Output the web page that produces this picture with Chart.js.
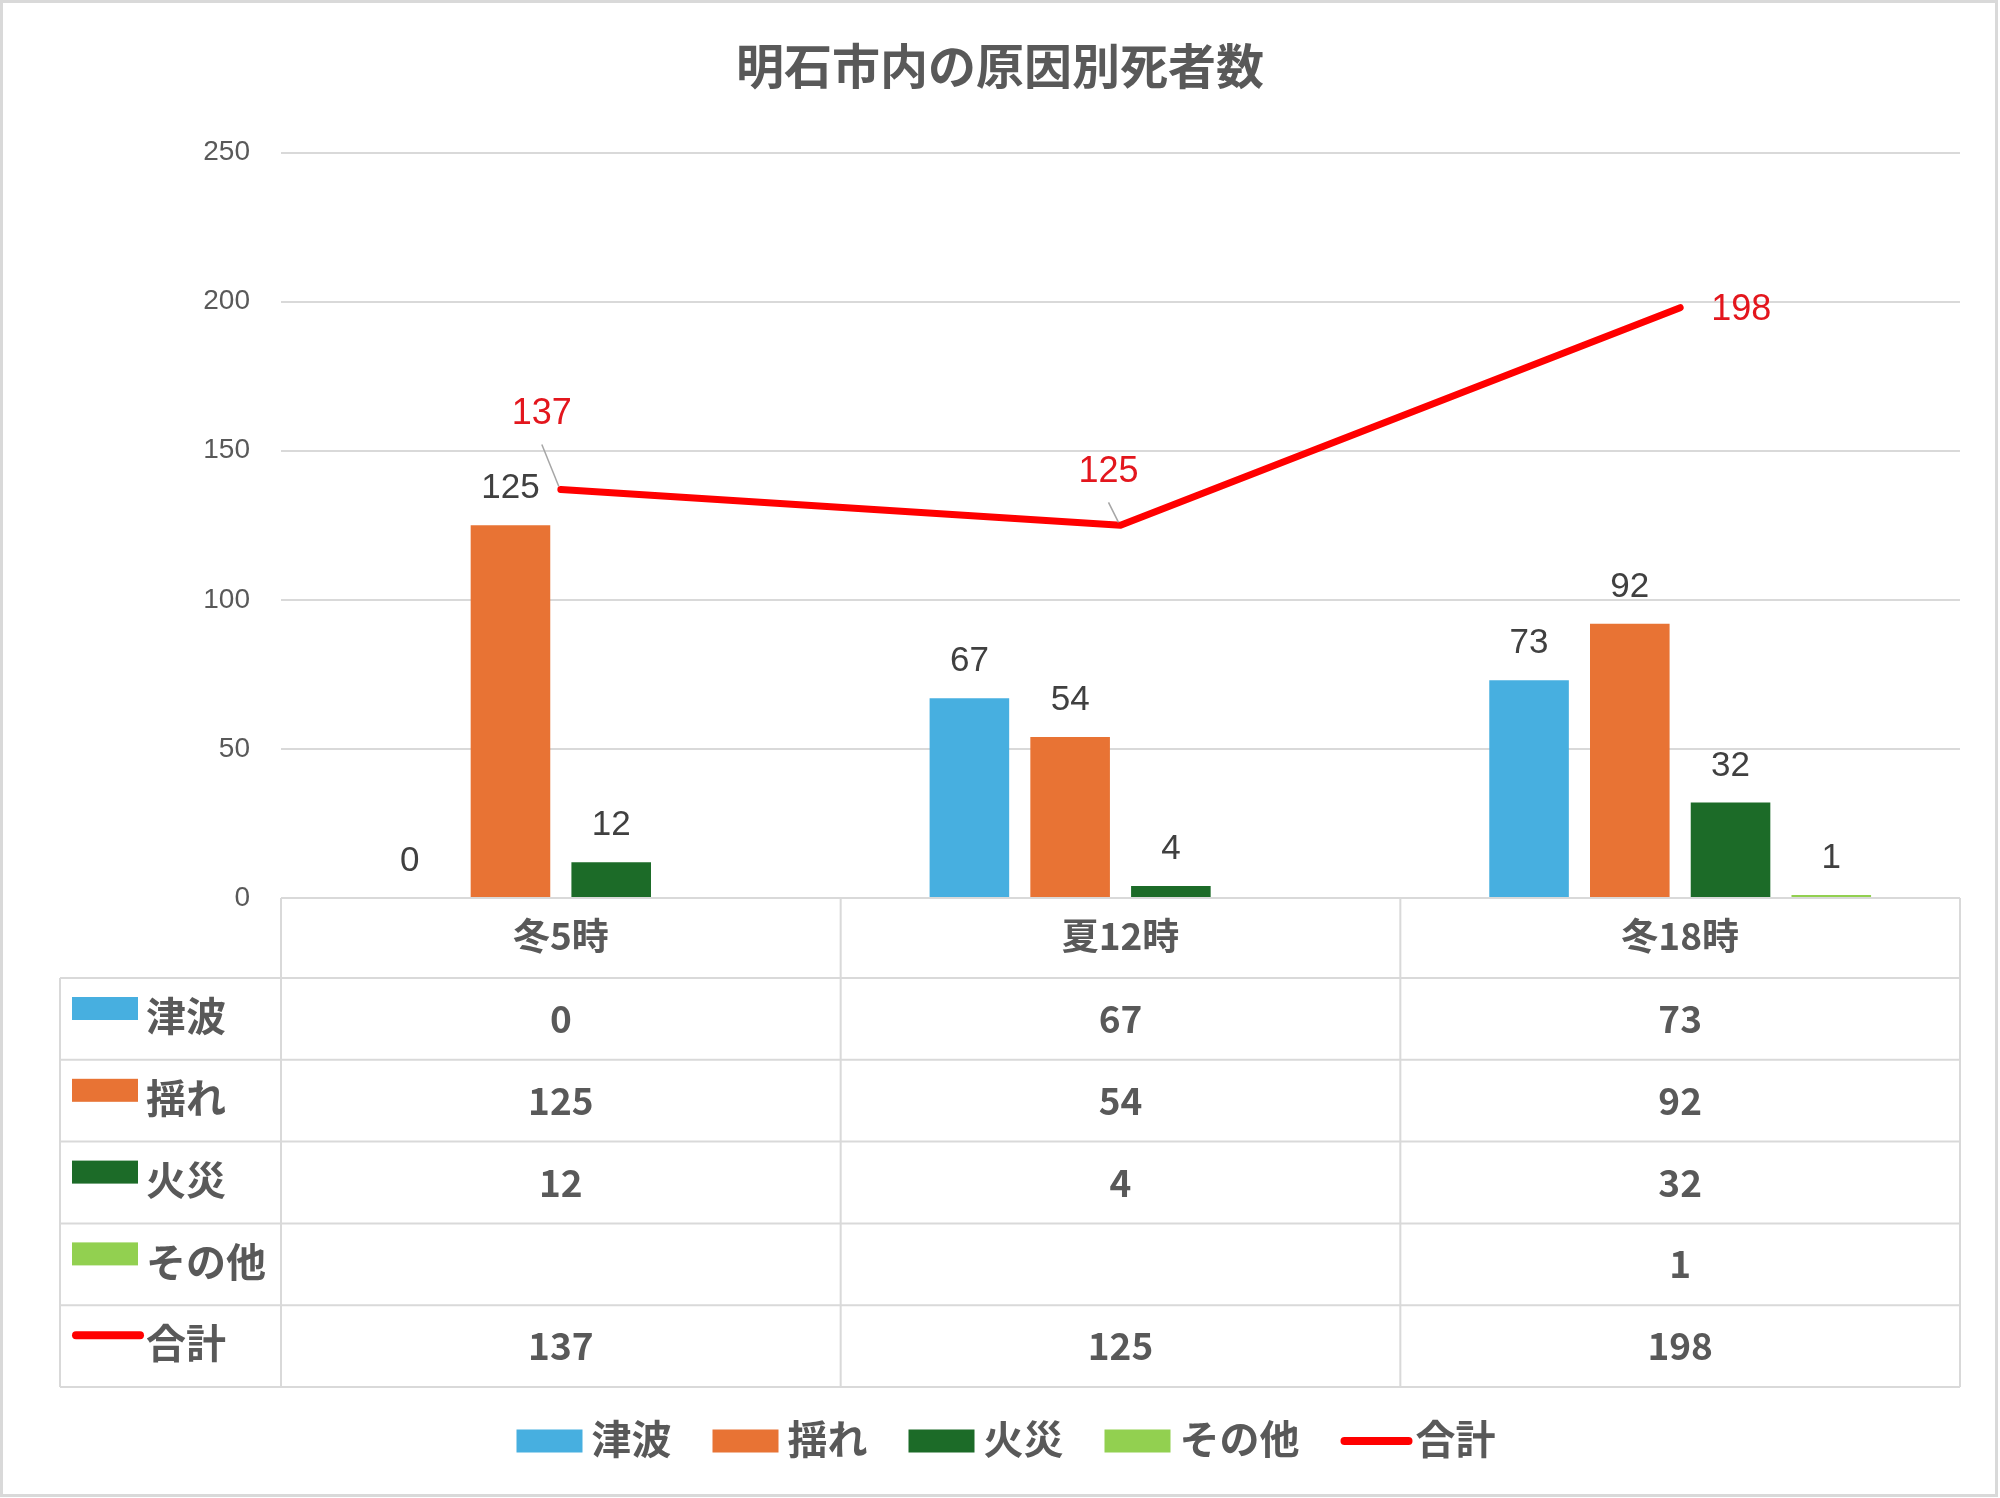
<!DOCTYPE html>
<html>
<head>
<meta charset="utf-8">
<script src="https://cdn.jsdelivr.net/npm/chart.js@4.4.0/dist/chart.umd.min.js"></script>
<style>
html, body { margin: 0; padding: 0; background: #fff; }
</style>
</head>
<body>
<canvas id="chart" width="2000" height="1498"></canvas>
<script>
const categories = ['冬5時', '夏12時', '冬18時'];
const tsunami = [0, 67, 73];
const shaking = [125, 54, 92];
const fire = [12, 4, 32];
const other = [null, null, 1];
const total = [137, 125, 198];
const seriesNames = ['津波', '揺れ', '火災', 'その他', '合計'];
const yTicks = [0, 50, 100, 150, 200, 250];

const GRAY = '#595959';
const GRID = '#d9d9d9';
const JP = "'Noto Sans CJK JP', 'Noto Sans', sans-serif";
const NUM = "'Liberation Sans', Arial, sans-serif";

// where the red total labels sit relative to their point, and whether they get a leader line
const totalLabelOffsets = [[-19, -75, true], [-12, -53, true], [61, 2, false]];

const valueLabels = {
    id: 'valueLabels',
    afterDatasetsDraw(chart) {
        const ctx = chart.ctx;
        ctx.save();
        chart.data.datasets.forEach((ds, i) => {
            const meta = chart.getDatasetMeta(i);
            meta.data.forEach((el, j) => {
                const v = ds.data[j];
                if (v === null || v === undefined) return;
                ctx.textAlign = 'center';
                if (ds.type === 'line') {
                    const [dx, dy, leader] = totalLabelOffsets[j];
                    const lx = el.x + dx, ly = el.y + dy;
                    if (leader) {
                        ctx.strokeStyle = '#a6a6a6';
                        ctx.lineWidth = 1.5;
                        ctx.beginPath();
                        ctx.moveTo(lx, ly + 30);
                        ctx.lineTo(el.x - 2, el.y - 3);
                        ctx.stroke();
                    }
                    ctx.fillStyle = '#e3161d';
                    ctx.font = '36px ' + NUM;
                    ctx.textBaseline = 'middle';
                    ctx.fillText(String(v), lx, ly);
                } else {
                    ctx.fillStyle = '#404040';
                    ctx.font = '35px ' + NUM;
                    ctx.textBaseline = 'alphabetic';
                    ctx.fillText(String(v), el.x, el.y - 27);
                }
            });
        });
        ctx.restore();
    }
};

function drawKey(ctx, ds, x, y) {
    if (ds.type === 'line') {
        ctx.strokeStyle = ds.borderColor;
        ctx.lineWidth = 8;
        ctx.lineCap = 'round';
        ctx.beginPath();
        ctx.moveTo(x + 4, y);
        ctx.lineTo(x + 68, y);
        ctx.stroke();
    } else {
        ctx.fillStyle = ds.backgroundColor;
        ctx.fillRect(x, y - 11.5, 66, 23);
    }
}

const dataTable = {
    id: 'dataTable',
    afterDraw(chart) {
        const ctx = chart.ctx;
        const xs = chart.scales.x;
        const top = chart.chartArea.bottom;
        const colW = (xs.right - xs.left) / categories.length;
        const headH = 80, rowH = 81.8, labelLeft = 60;
        const rows = chart.data.datasets.length;
        const bottom = top + headH + rowH * rows;
        ctx.save();

        // outer frame
        ctx.strokeStyle = GRID;
        ctx.lineWidth = 3;
        ctx.strokeRect(1.5, 1.5, 1995, 1494);

        // grid of the table
        ctx.lineWidth = 2;
        ctx.beginPath();
        for (let r = 0; r <= rows; r++) {
            const y = top + headH + r * rowH;
            ctx.moveTo(labelLeft, y);
            ctx.lineTo(xs.right, y);
        }
        for (let c = 0; c <= categories.length; c++) {
            const x = xs.left + c * colW;
            ctx.moveTo(x, top);
            ctx.lineTo(x, bottom);
        }
        ctx.moveTo(labelLeft, top + headH);
        ctx.lineTo(labelLeft, bottom);
        ctx.stroke();

        // header
        ctx.fillStyle = GRAY;
        ctx.textAlign = 'center';
        ctx.textBaseline = 'middle';
        ctx.font = 'bold 37px ' + JP;
        categories.forEach((c, i) => {
            ctx.fillText(c, xs.getPixelForValue(i), top + headH / 2 - 2);
        });

        // rows
        chart.data.datasets.forEach((ds, r) => {
            const rt = top + headH + r * rowH;
            const cy = rt + rowH / 2;
            drawKey(ctx, ds, 72, ds.type === 'line' ? rt + 30 : rt + 30.5);
            ctx.fillStyle = GRAY;
            ctx.textAlign = 'left';
            ctx.font = 'bold 40px ' + JP;
            ctx.fillText(seriesNames[r], 146, cy - 3);
            ctx.textAlign = 'center';
            ctx.font = 'bold 37px ' + JP;
            ds.data.forEach((v, i) => {
                if (v === null || v === undefined) return;
                ctx.fillText(String(v), xs.getPixelForValue(i), cy);
            });
        });

        // bottom legend
        ctx.font = 'bold 40px ' + JP;
        const gap = 9, space = 41, keyW = 66;
        const widths = seriesNames.map(n => keyW + gap + ctx.measureText(n).width);
        const totalW = widths.reduce((a, b) => a + b, 0) + space * (widths.length - 1);
        let lx = 1006 - totalW / 2;
        const ly = 1441;
        chart.data.datasets.forEach((ds, i) => {
            drawKey(ctx, ds, lx, ly);
            ctx.fillStyle = GRAY;
            ctx.textAlign = 'left';
            ctx.fillText(seriesNames[i], lx + keyW + gap, ly - 2);
            lx += widths[i] + space;
        });
        ctx.restore();
    }
};

const barColors = ['#47afe0', '#e87334', '#1c6b28', '#92d050'];
const barSeries = [tsunami, shaking, fire, other];

const datasets = [{
    type: 'line',
    label: seriesNames[4],
    data: total,
    borderColor: '#ff0000',
    backgroundColor: '#ff0000',
    borderWidth: 7,
    borderCapStyle: 'round',
    borderJoinStyle: 'round',
    pointRadius: 0,
    tension: 0,
    order: 0
}];
barSeries.forEach((s, i) => {
    datasets.splice(i, 0, {
        type: 'bar',
        label: seriesNames[i],
        data: s,
        backgroundColor: barColors[i],
        categoryPercentage: 0.72,
        barPercentage: 0.79,
        order: 1
    });
});

new Chart(document.getElementById('chart'), {
    data: { labels: categories, datasets: datasets },
    options: {
        responsive: false,
        animation: false,
        devicePixelRatio: 1,
        layout: { padding: { left: 40, right: 40, top: 0, bottom: 0 } },
        plugins: {
            legend: { display: false },
            tooltip: { enabled: false },
            title: {
                display: true,
                text: '明石市内の原因別死者数',
                color: GRAY,
                font: { size: 48, weight: 'bold', family: JP },
                padding: { top: 37, bottom: 58 }
            }
        },
        scales: {
            x: {
                grid: { display: false },
                border: { display: false },
                ticks: { display: false },
                afterFit(scale) { scale.height = 600; }
            },
            y: {
                min: 0,
                max: yTicks[yTicks.length - 1],
                afterBuildTicks(scale) { scale.ticks = yTicks.map(v => ({ value: v })); },
                grid: { color: GRID, lineWidth: 2, drawTicks: false },
                border: { display: false },
                ticks: { color: GRAY, padding: 31, font: { size: 28, family: NUM } },
                afterFit(scale) { scale.width = 241; }
            }
        }
    },
    plugins: [valueLabels, dataTable]
});
</script>
</body>
</html>
